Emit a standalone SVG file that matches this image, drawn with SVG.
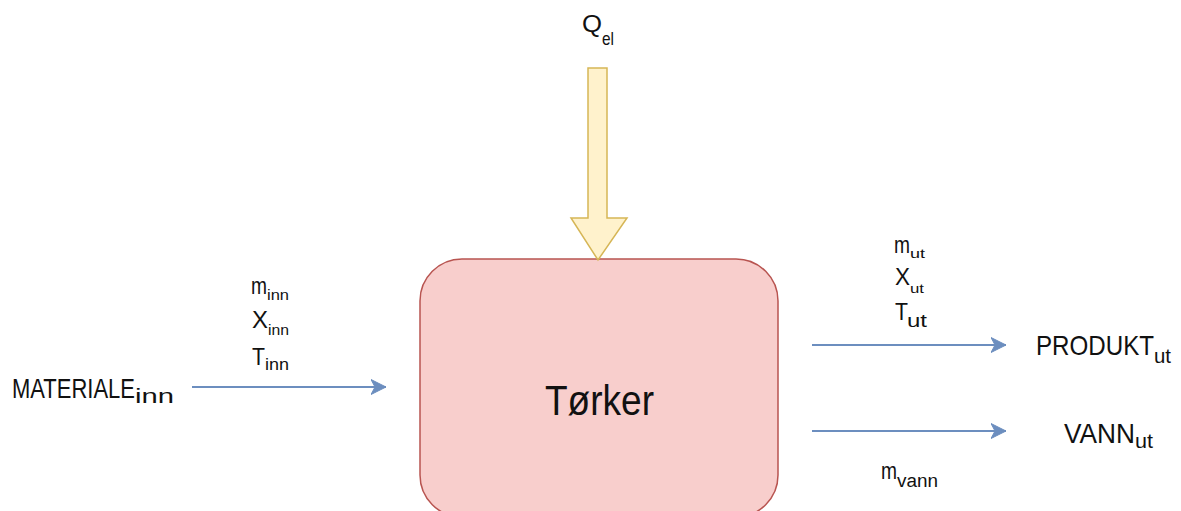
<svg xmlns="http://www.w3.org/2000/svg" width="1181" height="511" viewBox="0 0 1181 511">
  <style>
    text { font-family: "Liberation Sans", Arial, sans-serif; fill: #111; }
    .flow { stroke: #6c8ebf; stroke-width: 2; fill: none; }
  </style>
  <defs>
    <marker id="arrowBlue" markerUnits="userSpaceOnUse" markerWidth="16" markerHeight="16" viewBox="-15 -8 16 16" refX="0" refY="0" orient="auto">
      <path d="M0,0 L-15,-7.5 L-11,0 L-15,7.5 Z" fill="#6c8ebf" stroke="#6c8ebf" stroke-width="1"/>
    </marker>
  </defs>

  <rect width="1181" height="511" fill="#ffffff"/>

  <!-- Dryer unit -->
  <g id="torker">
    <rect x="420" y="259" width="358" height="258" rx="42" ry="42" fill="#f8cecc" stroke="#b85450" stroke-width="1.5"/>
    <text x="545" y="415" font-size="42" textLength="109" lengthAdjust="spacingAndGlyphs">Tørker</text>
  </g>

  <!-- Electric heat input -->
  <g id="q-el">
    <path d="M588,68 L607,68 L607,218 L627,218 L598,260 L571,218 L588,218 Z" fill="#fff2cc" stroke="#d6b656" stroke-width="1.5"/>
    <text><tspan x="582" y="32" font-size="24" textLength="20" lengthAdjust="spacingAndGlyphs">Q</tspan><tspan x="602" y="45" font-size="19" textLength="12" lengthAdjust="spacingAndGlyphs">el</tspan></text>
  </g>

  <!-- Material flows -->
  <g id="connectors">
    <line class="flow" x1="192" y1="387" x2="386" y2="387" marker-end="url(#arrowBlue)"/>
    <line class="flow" x1="812" y1="345" x2="1006" y2="345" marker-end="url(#arrowBlue)"/>
    <line class="flow" x1="812" y1="431" x2="1006" y2="431" marker-end="url(#arrowBlue)"/>
  </g>

  <!-- Inlet -->
  <g id="materiale-inn">
    <text><tspan x="12" y="398" font-size="28" textLength="123" lengthAdjust="spacingAndGlyphs">MATERIALE</tspan><tspan x="135" y="403" font-size="21" textLength="39" lengthAdjust="spacingAndGlyphs">inn</tspan></text>
  </g>
  <g id="inn-vars">
    <text><tspan x="251" y="294" font-size="24" textLength="16" lengthAdjust="spacingAndGlyphs">m</tspan><tspan x="267" y="300" font-size="15" textLength="22" lengthAdjust="spacingAndGlyphs">inn</tspan></text>
    <text><tspan x="252" y="328" font-size="24" textLength="16" lengthAdjust="spacingAndGlyphs">X</tspan><tspan x="268" y="335" font-size="15" textLength="21" lengthAdjust="spacingAndGlyphs">inn</tspan></text>
    <text><tspan x="252" y="365" font-size="24" textLength="13" lengthAdjust="spacingAndGlyphs">T</tspan><tspan x="265" y="370" font-size="16" textLength="24" lengthAdjust="spacingAndGlyphs">inn</tspan></text>
  </g>

  <!-- Product outlet -->
  <g id="produkt-ut">
    <text><tspan x="1036" y="355" font-size="28" textLength="118" lengthAdjust="spacingAndGlyphs">PRODUKT</tspan><tspan x="1154" y="363" font-size="21" textLength="17" lengthAdjust="spacingAndGlyphs">ut</tspan></text>
  </g>
  <g id="ut-vars">
    <text><tspan x="894" y="253" font-size="24" textLength="16" lengthAdjust="spacingAndGlyphs">m</tspan><tspan x="910" y="258" font-size="13" textLength="15" lengthAdjust="spacingAndGlyphs">ut</tspan></text>
    <text><tspan x="895" y="285" font-size="24" textLength="15" lengthAdjust="spacingAndGlyphs">X</tspan><tspan x="910" y="293" font-size="13" textLength="14" lengthAdjust="spacingAndGlyphs">ut</tspan></text>
    <text><tspan x="895" y="320" font-size="24" textLength="13" lengthAdjust="spacingAndGlyphs">T</tspan><tspan x="907" y="327" font-size="18" textLength="20" lengthAdjust="spacingAndGlyphs">ut</tspan></text>
  </g>

  <!-- Water outlet -->
  <g id="vann-ut">
    <text><tspan x="1064" y="443" font-size="28" textLength="71" lengthAdjust="spacingAndGlyphs">VANN</tspan><tspan x="1135" y="448" font-size="20" textLength="18" lengthAdjust="spacingAndGlyphs">ut</tspan></text>
  </g>
  <g id="vann-vars">
    <text><tspan x="881" y="479" font-size="24" textLength="16" lengthAdjust="spacingAndGlyphs">m</tspan><tspan x="897" y="487" font-size="18" textLength="41" lengthAdjust="spacingAndGlyphs">vann</tspan></text>
  </g>
</svg>
